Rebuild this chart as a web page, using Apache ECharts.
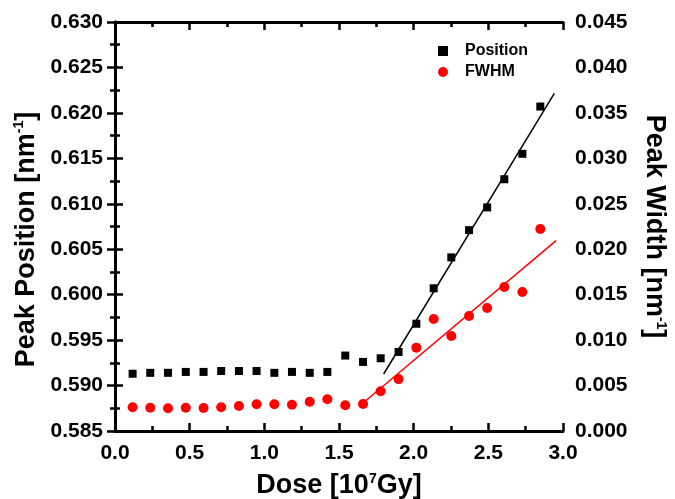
<!DOCTYPE html>
<html><head><meta charset="utf-8">
<script src="https://cdn.jsdelivr.net/npm/echarts@6/dist/echarts.min.js"></script>
<style>html,body{margin:0;padding:0;background:#fff}#c{width:675px;height:499px}</style>
</head><body><div id="c"></div>
<script>
var dose = [0.118,0.236,0.355,0.474,0.593,0.711,0.830,0.948,1.067,1.185,1.304,1.422,1.542,1.661,1.779,1.899,2.018,2.134,2.252,2.371,2.492,2.607,2.728,2.848];
var position = [0.5913,0.5914,0.5914,0.5915,0.5915,0.5916,0.5916,0.5916,0.5914,0.5915,0.5914,0.5915,0.5933,0.5926,0.5930,0.5937,0.5968,0.6007,0.6041,0.6071,0.6096,0.6127,0.6155,0.6207];
var fwhm = [0.00261,0.00256,0.00250,0.00256,0.00253,0.00261,0.00275,0.00294,0.00294,0.00289,0.00322,0.00349,0.00283,0.00297,0.00437,0.00571,0.00917,0.01232,0.01045,0.01265,0.01353,0.01584,0.01529,0.02222];
var posFitX = [1.799, 2.942];
var posFitY = [0.59127, 0.62215];
var fwFitX = [1.661, 2.954];
var fwFitY = [0.00308, 0.02094];
var xTicks = {min:0, max:3, interval:0.5};
var leftTicks = {min:0.585, max:0.630, interval:0.005};
var rightTicks = {min:0, max:0.045, interval:0.005};

function zip(a,b){return a.map(function(v,i){return [v,b[i]];});}
var FONT = 'Liberation Sans, Arial, sans-serif';
var axisLine = {show:true, lineStyle:{color:'#000', width:3}};
var tick = {show:true, inside:true, length:8, lineStyle:{color:'#000', width:2.5}};
var minor = {show:true, splitNumber:2, length:5, lineStyle:{color:'#000', width:2.5}};
function lbl(m){return {fontFamily:FONT, fontWeight:'bold', fontSize:21, color:'#000', margin:m};}
var rich = {
  a:{fontFamily:FONT, fontWeight:'bold', fontSize:27, color:'#000'},
  s:{fontFamily:FONT, fontWeight:'bold', fontSize:14, color:'#000', verticalAlign:'bottom', padding:[0,0,14,0]}
};

var chart = echarts.init(document.getElementById('c'), null, {renderer:'canvas'});
chart.setOption({
  animation:false,
  backgroundColor:'#fff',
  grid:{left:115, right:112, top:22, bottom:68, containLabel:false, outerBoundsMode:'none'},
  legend:{
    left:433, top:38, orient:'vertical', itemGap:5, itemWidth:10, itemHeight:10,
    textStyle:{fontFamily:FONT, fontWeight:'bold', fontSize:16, color:'#000', padding:[0,0,0,12]},
    data:[{name:'Position', icon:'rect'},{name:'FWHM', icon:'circle'}]
  },
  xAxis:[
    {type:'value', position:'bottom', min:xTicks.min, max:xTicks.max, interval:xTicks.interval,
     axisLine:axisLine, axisTick:tick, minorTick:minor, splitLine:{show:false},
     axisLabel:Object.assign({formatter:function(v){return v.toFixed(1);}}, lbl(12)),
     name:'{a|Dose [10}{s|7}{a|Gy]}', nameLocation:'middle', nameGap:41,
     nameTextStyle:{rich:rich}},
    {type:'value', position:'top', min:xTicks.min, max:xTicks.max, interval:xTicks.interval,
     axisLine:axisLine, axisTick:tick, minorTick:minor, splitLine:{show:false},
     axisLabel:{show:false}}
  ],
  yAxis:[
    {type:'value', position:'left', min:leftTicks.min, max:leftTicks.max, interval:leftTicks.interval,
     axisLine:axisLine, axisTick:tick, minorTick:minor, splitLine:{show:false},
     axisLabel:Object.assign({formatter:function(v){return v.toFixed(3);}}, lbl(12)),
     name:'{a|Peak Position [nm}{s|-1}{a|]}', nameLocation:'middle', nameRotate:90, nameGap:51,
     nameTextStyle:{rich:rich, padding:[0,26,0,0]}},
    {type:'value', position:'right', min:rightTicks.min, max:rightTicks.max, interval:rightTicks.interval,
     axisLine:axisLine, axisTick:tick, minorTick:minor, splitLine:{show:false},
     axisLabel:Object.assign({formatter:function(v){return v.toFixed(3);}}, lbl(12)),
     name:'{a|Peak Width [nm}{s|-1}{a|]}', nameLocation:'middle', nameRotate:-90, nameGap:77,
     nameTextStyle:{rich:rich}}
  ],
  series:[
    {name:'Position', type:'scatter', xAxisIndex:0, yAxisIndex:0, symbol:'rect', symbolSize:8,
     itemStyle:{color:'#000', opacity:1}, data:zip(dose, position), z:5},
    {name:'FWHM', type:'scatter', xAxisIndex:0, yAxisIndex:1, symbol:'circle', symbolSize:10,
     itemStyle:{color:'#ff0000', opacity:1}, data:zip(dose, fwhm), z:5},
    {name:'posFit', type:'line', xAxisIndex:0, yAxisIndex:0, showSymbol:false, symbol:'none',
     lineStyle:{color:'#000', width:1.5}, data:zip(posFitX, posFitY), z:3},
    {name:'fwFit', type:'line', xAxisIndex:0, yAxisIndex:1, showSymbol:false, symbol:'none',
     lineStyle:{color:'#ff0000', width:1.5}, data:zip(fwFitX, fwFitY), z:3}
  ]
});
</script></body></html>
